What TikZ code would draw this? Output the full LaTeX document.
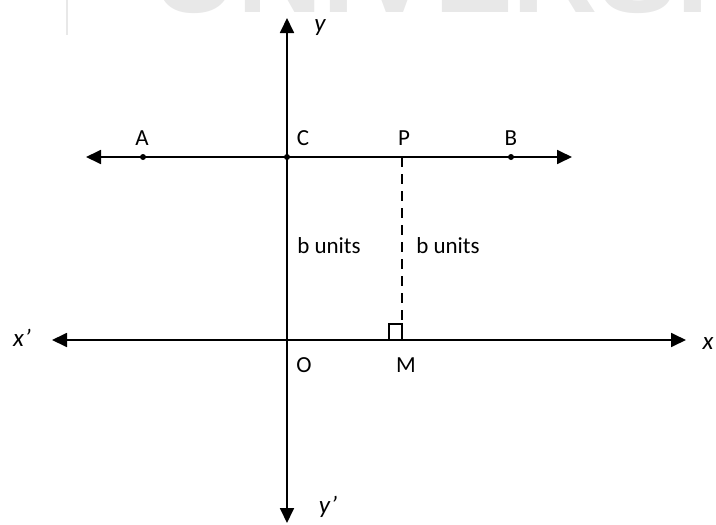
\documentclass[tikz,border=0pt]{standalone}
\usepackage{fontspec}
\setmainfont{Carlito}
\newfontfamily\wmfont{Liberation Sans}
\usetikzlibrary{arrows.meta}

\begin{document}
\begin{tikzpicture}[x=1pt,y=-1pt,
  axis/.style={line width=1.8pt,{Triangle[length=15pt,width=14pt]}-{Triangle[length=15pt,width=14pt]}},
  lbl/.style={font=\fontsize{23}{27}\selectfont,inner sep=0pt},
  axlbl/.style={font=\fontsize{25}{29}\selectfont\itshape,inner sep=0pt},
  dot/.style={circle,fill,inner sep=0pt,minimum size=6pt}]
\useasboundingbox (0,0) rectangle (716,525);
% Faint watermark at the top edge
\begin{scope}
\clip (0,0) rectangle (716,525);
\node[anchor=base west,inner sep=0pt,text=black!9,font=\wmfont\bfseries\fontsize{118}{118}\selectfont] (wm) at (152,12) {UNIVERSI};
\coordinate (wmt) at (67,0);
\coordinate (wmb) at (67,35);
\draw[black!9,line width=2pt] (wmt) -- (wmb);
\end{scope}

% Axes
\coordinate (yt) at (287,18);
\coordinate (yb) at (287,523);
\coordinate (xl) at (52,340);
\coordinate (xr) at (686,340);
\coordinate (O) at (287,340);
\coordinate (M) at (402,340);
\draw[axis] (yb) -- (yt);
\draw[axis] (xl) -- (xr);

% Line AB parallel to the x-axis
\coordinate (ABl) at (86,157);
\coordinate (ABr) at (572,157);
\draw[axis] (ABl) -- (ABr);
\node[dot] (A) at (143,157) {};
\node[dot] (C) at (287,157) {};
\coordinate (P) at (402,157);
\node[dot] (B) at (511,157) {};

% Perpendicular from P
\draw[line width=2.2pt,dash pattern=on 10pt off 7pt] (P) -- (M);
\draw[line width=1.6pt] (M) ++(-13,0) -- ++(0,-16) -- ++(13,0) -- ++(0,16);

% Labels
\node[lbl] (labA) at (142,138) {A};
\node[lbl] (labC) at (303,138) {C};
\node[lbl] (labP) at (404,138) {P};
\node[lbl] (labB) at (511,138) {B};
\node[lbl] (labO) at (304,365) {O};
\node[lbl] (labM) at (406,365) {M};
\node[lbl] (lenC) at (329,246) {b units};
\node[lbl] (lenP) at (448,246) {b units};
\node[axlbl] (laby) at (320,28) {y};
\node[axlbl] (labyy) at (328,507) {y'};
\node[axlbl] (labxx) at (22,338) {x'};
\node[axlbl] (labx) at (708,344) {x};
\end{tikzpicture}
\end{document}
